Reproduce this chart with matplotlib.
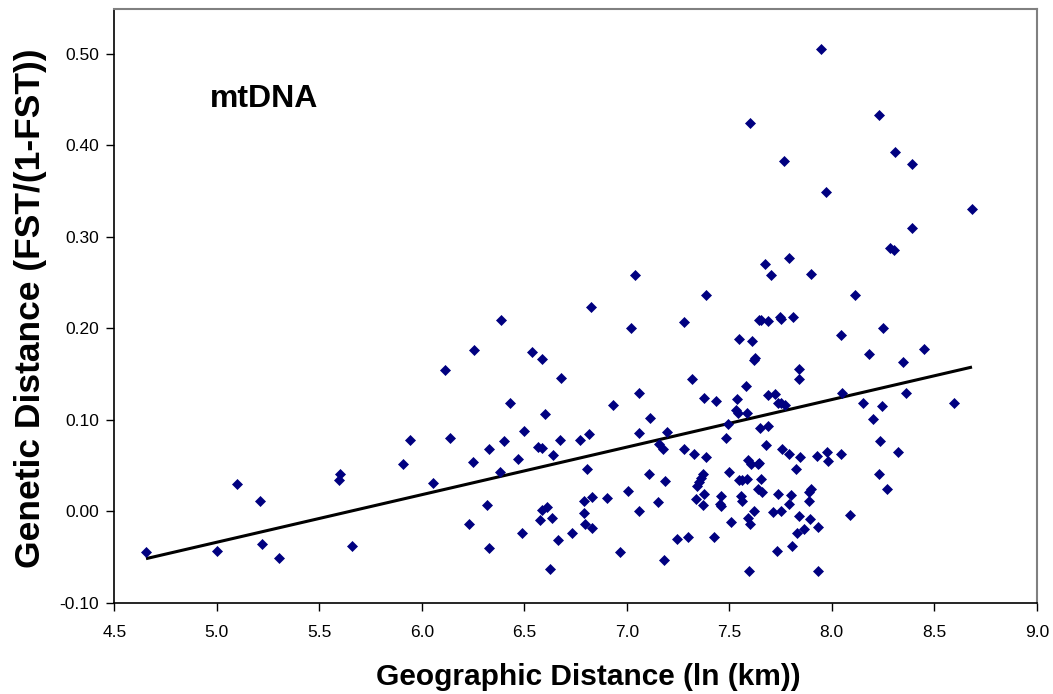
import numpy as np
import matplotlib
matplotlib.use("Agg")
import matplotlib.pyplot as plt

plt.rcParams['font.family'] = ['Liberation Sans', 'DejaVu Sans']

# Geographic distance (ln km)
geo_dist = [
    4.655, 5.003, 5.099, 5.209, 5.220, 5.303, 5.600, 5.596, 5.658, 5.944,
    6.139, 5.910, 6.056, 6.251, 6.326, 6.399, 6.380, 6.471, 6.568, 6.585,
    6.642, 6.673, 6.771, 6.320, 6.232, 6.328, 6.490, 6.588, 6.612, 6.579,
    6.634, 6.663, 6.731, 6.625, 6.432, 6.600, 6.497,
    6.388, 6.255, 6.112, 6.536, 6.585, 6.681,
    7.042, 6.824, 7.019, 7.386, 7.278, 7.673, 7.703, 7.793, 7.643, 7.653,
    7.689, 7.749, 7.752, 7.813, 7.547, 7.611, 7.619, 7.625, 7.839, 7.839,
    7.317, 7.580, 7.058, 6.934, 7.377, 7.434, 7.538, 7.687, 7.723, 7.739,
    7.751, 7.772, 7.533,
    7.601, 7.765, 7.946, 8.230, 8.310, 8.391, 7.972, 8.684,
    8.393, 8.284, 8.303, 7.897, 8.113, 8.046, 8.251, 8.180, 8.448, 8.349,
    8.051, 8.152, 8.243, 8.363, 8.596,
    7.115, 6.817, 7.058, 7.195, 7.159, 7.177, 7.277, 7.326, 7.386, 7.484,
    7.494, 7.544, 7.586, 7.650, 7.689, 7.678, 7.757, 7.790, 7.845, 6.808,
    7.110, 7.186, 7.373, 7.362, 7.354, 7.341, 7.500, 7.593, 7.606, 7.639,
    7.645, 7.546, 7.562, 7.586, 7.655, 7.825, 7.639, 7.660, 7.738, 7.802,
    6.790, 6.829, 6.905, 7.004, 7.154, 7.061, 7.340, 7.378, 7.370, 7.460,
    7.455, 7.461, 7.557, 7.560, 7.619, 7.590, 7.602, 7.510, 7.715, 7.751,
    7.793, 7.839, 7.831, 7.806, 7.734, 6.790, 6.795, 6.829, 6.968, 7.183,
    7.246, 7.300, 7.424, 7.594,
    8.199, 8.234, 8.322, 7.926, 7.978, 7.980, 8.045, 8.232, 8.271, 7.889,
    7.898, 7.889, 7.895, 7.931, 7.864, 8.090, 7.931,
]

# Genetic distance FST/(1-FST)
gen_dist = [
    -0.044, -0.043, 0.030, 0.012, -0.036, -0.051, 0.041, 0.034, -0.038, 0.078,
    0.080, 0.052, 0.031, 0.054, 0.068, 0.077, 0.043, 0.057, 0.071, 0.069,
    0.062, 0.078, 0.078, 0.007, -0.014, -0.040, -0.024, 0.002, 0.005, -0.009,
    -0.007, -0.031, -0.024, -0.063, 0.118, 0.107, 0.088,
    0.209, 0.176, 0.155, 0.174, 0.167, 0.146,
    0.258, 0.223, 0.200, 0.237, 0.207, 0.270, 0.258, 0.277, 0.209, 0.209,
    0.208, 0.212, 0.210, 0.2125, 0.188, 0.186, 0.165, 0.168, 0.156, 0.145,
    0.145, 0.137, 0.129, 0.116, 0.124, 0.121, 0.123, 0.127, 0.128, 0.118,
    0.119, 0.116, 0.111,
    0.4245, 0.3825, 0.505, 0.433, 0.393, 0.380, 0.349, 0.330,
    0.310, 0.288, 0.286, 0.259, 0.236, 0.193, 0.200, 0.172, 0.178, 0.163,
    0.130, 0.1185, 0.1155, 0.129, 0.1185,
    0.102, 0.085, 0.086, 0.087, 0.074, 0.068, 0.068, 0.063, 0.059, 0.080,
    0.0955, 0.1075, 0.1075, 0.0915, 0.093, 0.0725, 0.068, 0.063, 0.060, 0.046,
    0.041, 0.033, 0.041, 0.0365, 0.0325, 0.028, 0.043, 0.0565, 0.052, 0.052,
    0.053, 0.034, 0.034, 0.036, 0.035, 0.046, 0.0245, 0.021, 0.019, 0.018,
    0.011, 0.016, 0.015, 0.022, 0.010, 0.000, 0.0135, 0.019, 0.007, 0.017,
    0.008, 0.0055, 0.017, 0.012, 0.000, -0.0066, -0.014, -0.011, -0.001, 0.001,
    0.008, -0.005, -0.024, -0.038, -0.043, -0.002, -0.014, -0.018, -0.044, -0.053,
    -0.030, -0.028, -0.028, -0.065,
    0.101, 0.077, 0.065, 0.061, 0.065, 0.055, 0.063, 0.041, 0.025, 0.021,
    0.0245, 0.011, -0.008, -0.017, -0.019, -0.004, -0.065,
]

x_ticks = [4.5, 5.0, 5.5, 6.0, 6.5, 7.0, 7.5, 8.0, 8.5, 9.0]
y_ticks = [-0.10, 0.00, 0.10, 0.20, 0.30, 0.40, 0.50]

x = np.array(geo_dist)
y = np.array(gen_dist)

fig = plt.figure(figsize=(10.53, 6.94), dpi=100)
ax = fig.add_axes([0.1085, 0.1311, 0.8761, 0.8559])

ax.plot(x, y, linestyle='none', marker='D', ms=4.7, mfc='#000080', mec='#000080', mew=0.5, zorder=3)

coef = np.polyfit(x, y, 1)
xl = np.array([x.min(), x.max()])
ax.plot(xl, np.polyval(coef, xl), color='black', lw=2.2, zorder=2, solid_capstyle='butt')

ax.set_xlim(4.5, 9.0)
ax.set_ylim(-0.10, 0.549)
ax.set_xticks(x_ticks)
ax.set_xticklabels([f"{v:.1f}" for v in x_ticks])
ax.set_yticks(y_ticks)
ax.set_yticklabels([f"{v:.2f}" for v in y_ticks])
ax.tick_params(axis='both', direction='out', length=6, width=1, labelsize=12.5, colors='black')
ax.tick_params(axis='x', pad=10)
ax.tick_params(axis='y', pad=5)

for s in ['left', 'bottom']:
    ax.spines[s].set_color('black')
    ax.spines[s].set_linewidth(1.2)
for s in ['top', 'right']:
    ax.spines[s].set_color('#808080')
    ax.spines[s].set_linewidth(1.5)

ax.set_xlabel('Geographic Distance (ln (km))', fontsize=21.5, fontweight='bold')
ax.xaxis.set_label_coords(0.5135, -0.1008, transform=ax.transAxes)
ax.xaxis.label.set_va('top')
ax.set_ylabel('Genetic Distance (FST/(1-FST))', fontsize=25.5, fontweight='bold')
ax.yaxis.set_label_coords(-0.0905, 0.497, transform=ax.transAxes)
ax.yaxis.label.set_va('center')

ax.text(4.967, 0.442, 'mtDNA', fontsize=23, fontweight='bold', ha='left', va='baseline')

fig.savefig('out.png', dpi=100)
